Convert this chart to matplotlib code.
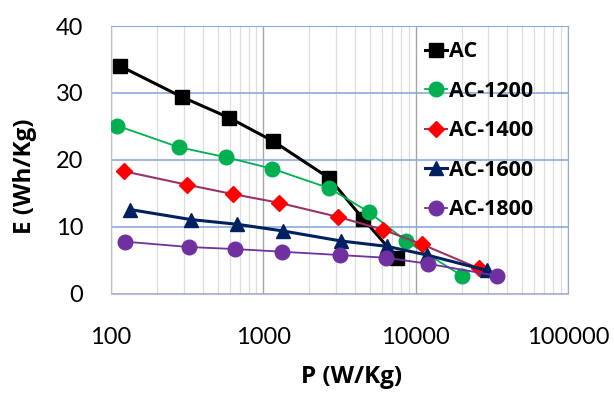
import matplotlib.pyplot as plt
from matplotlib.ticker import FixedLocator, NullFormatter

# valeurs (P en W/Kg, E en Wh/Kg)
p_ac = [115, 292, 596, 1160, 2700, 4520, 7550]
e_ac = [34.0, 29.4, 26.3, 22.8, 17.3, 11.2, 5.4]

p_1200 = [110, 279, 569, 1140, 2700, 4950, 8650, 20200]
e_1200 = [25.1, 21.9, 20.4, 18.7, 15.8, 12.2, 7.9, 2.7]

p_1400 = [122, 315, 632, 1270, 3090, 6110, 11000, 26000]
e_1400 = [18.3, 16.3, 14.9, 13.6, 11.5, 9.6, 7.4, 3.8]

p_1600 = [133, 335, 671, 1345, 3240, 6490, 11900, 29400]
e_1600 = [12.6, 11.1, 10.4, 9.4, 7.9, 7.1, 5.8, 3.5]

p_1800 = [124, 325, 651, 1327, 3190, 6400, 12050, 34200]
e_1800 = [7.8, 7.0, 6.7, 6.3, 5.8, 5.4, 4.5, 2.7]

series = [
    ("AC", p_ac, e_ac, "black", "black", "s", 9.5, 2.2),
    ("AC-1200", p_1200, e_1200, "#00B050", "#00B050", "o", 10.5, 1.3),
    ("AC-1400", p_1400, e_1400, "#993366", "#FF0000", "D", 8, 1.5),
    ("AC-1600", p_1600, e_1600, "#002060", "#002060", "^", 9.5, 2.2),
    ("AC-1800", p_1800, e_1800, "#7030A0", "#7030A0", "o", 10.5, 1.3),
]

plt.rcParams["font.family"] = ["Lato", "DejaVu Sans"]
gras = ["Liberation Sans Narrow", "Open Sans", "DejaVu Sans"]

fig = plt.figure(figsize=(6.14, 3.94), dpi=100)
ax = fig.add_axes([0.181, 0.254, 0.744, 0.680])

for nom, p, e, c_ligne, c_mark, m, ms, lw in series:
    ax.plot(p, e, color=c_ligne, lw=lw, marker=m, ms=ms,
            markerfacecolor=c_mark, markeredgecolor=c_mark, label=nom, zorder=3)

ax.set_xscale("log")
ax.set_xlim(100, 100000)
ax.set_ylim(0, 40)
ax.set_yticks([0, 10, 20, 30, 40])
ax.set_xticks([100, 1000, 10000, 100000])
ax.set_xticklabels(["100", "1000", "10000", "100000"])
minor = [m * 10 ** k for k in range(2, 5) for m in range(2, 10)]
ax.xaxis.set_minor_locator(FixedLocator(minor))
ax.xaxis.set_minor_formatter(NullFormatter())

ax.grid(axis="y", which="major", color="#8EA9DB", lw=1.2, zorder=0)
ax.grid(axis="x", which="major", color="#A6A6A6", lw=1.0, zorder=0)
ax.grid(axis="x", which="minor", color="#DDDDDD", lw=0.9, zorder=0)

ax.tick_params(axis="both", which="both", length=0, labelsize=17)
ax.tick_params(axis="x", pad=24)
ax.tick_params(axis="y", pad=20)

for s in ["left", "bottom"]:
    ax.spines[s].set_color("#BFBFBF")
for s in ["top", "right"]:
    ax.spines[s].set_color("#8EA9DB")

ax.set_xlabel("P (W/Kg)", fontsize=17.5, family=gras, weight="bold")
ax.set_ylabel("E (Wh/Kg)", fontsize=17.5, family=gras, weight="bold")
ax.xaxis.set_label_coords(0.527, -0.265)
ax.yaxis.set_label_coords(-0.163, 0.44)

leg = ax.legend(loc="upper left", bbox_to_anchor=(0.655, 1.0), frameon=False,
                prop={"size": 15.5, "weight": "bold", "family": gras},
                handlelength=1.0, handletextpad=0.1, labelspacing=0.86,
                borderaxespad=0.3)

plt.savefig("out.png", dpi=100)
